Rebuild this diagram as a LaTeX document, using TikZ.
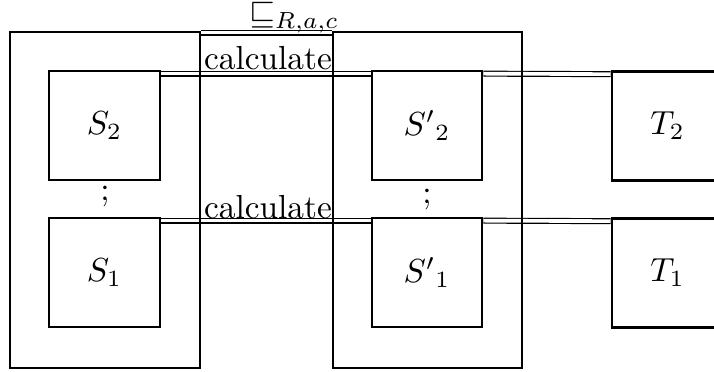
\documentclass[tikz,border=0pt]{standalone}
\usepackage{amsmath,amssymb}
\usepackage{tikz}
\usetikzlibrary{backgrounds}

\begin{document}
\begin{tikzpicture}[
  x=0.3pt, y=-0.3pt,
  frame/.style={rectangle, draw=black, line width=0.8pt, inner sep=0pt,
                minimum width=57pt, minimum height=100.8pt},
  box/.style={rectangle, draw=black, line width=0.8pt, inner sep=0pt,
              minimum width=33.3pt, minimum height=32.7pt},
  link/.style={double, line width=0.35pt, double distance=1.1pt},
  lab/.style={inner sep=1pt},
]
\useasboundingbox (0,0) rectangle (714,372);
\clip (0,0) rectangle (714,372);
% the two frames
\node[frame] (L) at (105,200) {};
\node[frame, minimum width=56.7pt] (M) at (427.5,200) {};
% inner boxes
\node[box] (S2) at (104.5,125.5) {$S_2$};
\node[box] (S1) at (104.5,272.5) {$S_1$};
\node[box, minimum width=33pt] (Sp2) at (427,125.5) {${S'}_2$};
\node[box, minimum width=33pt] (Sp1) at (427,272.5) {${S'}_1$};
\node[box] (T2) at (667.5,126) {$T_2$};
\node[box] (T1) at (667.5,273) {$T_1$};
\node (d1) at (105,197) {;};
\node (d2) at (427,200) {;};
% double links
\begin{scope}[on background layer]
\draw[link] ([yshift=-0.6pt]L.north east) -- ([yshift=-0.6pt]M.north west);
\draw[link] ([yshift=-1.2pt]S2.north east) -- ([yshift=-1.2pt]Sp2.north west);
\draw[link] ([yshift=-1.2pt]Sp2.north east) -- ([yshift=-1.2pt]T2.north west);
\draw[link] ([yshift=-1.2pt]S1.north east) -- ([yshift=-1.2pt]Sp1.north west);
\draw[link] ([yshift=-1.2pt]Sp1.north east) -- ([yshift=-1.2pt]T1.north west);
\end{scope}
\node[lab] (c2) at (268,58) {calculate};
\node[lab] (c1) at (268,207) {calculate};
\node[lab] (rel) at (294,18) {$\sqsubseteq_{R,a,c}$};
\end{tikzpicture}
\end{document}
